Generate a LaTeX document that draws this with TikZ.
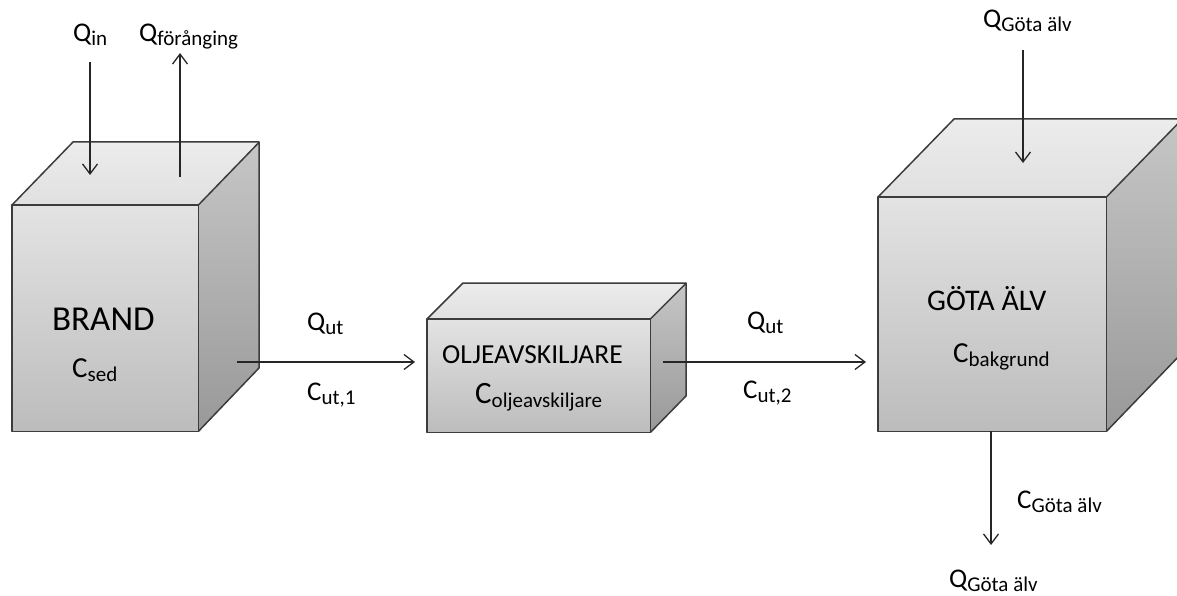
\documentclass[tikz,border=0pt]{standalone}
\usepackage{fontspec}
\setmainfont{Carlito}
\usetikzlibrary{arrows.meta}

% subscript in the style of the labels
\newcommand{\sbx}[1]{\raisebox{-4pt}{\fontsize{21}{23}\selectfont #1}}

\definecolor{edgecol}{HTML}{3C3C3C}
\definecolor{topface}{HTML}{ECECEC}
\definecolor{fronttop}{HTML}{E3E3E3}
\definecolor{frontbot}{HTML}{BCBCBC}
\definecolor{sidetop}{HTML}{C6C6C6}
\definecolor{sidebot}{HTML}{999999}

\tikzset{
  flow/.style={line width=1.3pt, draw=black!85,
    -{Straight Barb[length=10pt,width=15pt,line width=1.3pt]}},
  edge/.style={draw=edgecol, line width=1.5pt, line join=round},
  lbl/.style={anchor=base west, inner sep=0pt, font=\fontsize{27}{29}\selectfont},
  frontface/.style={draw=none, inner sep=0pt, anchor=north west}
}

% cube: name, left x, top y, width, height, depth dx, depth dy
\newcommand{\boxcube}[7]{%
  \node[frontface, minimum width=#4pt, minimum height=#5pt] (#1) at (#2,#3) {};
  \shade[top color=sidetop, bottom color=sidebot]
    (#1.north east) -- ++(#6,-#7) -- ++(0,#5) -- (#1.south east) -- cycle;
  \shade[top color=topface, bottom color=topface!95!black]
    (#1.north west) -- ++(#6,-#7) -- ++(#4,0) -- (#1.north east) -- cycle;
  \shade[top color=fronttop, bottom color=frontbot]
    (#1.north west) rectangle (#1.south east);
  \draw[edge] (#1.north west) rectangle (#1.south east);
  \draw[edge] (#1.north west) -- ++(#6,-#7) -- ++(#4,0) -- ++(0,#5) -- (#1.south east);
  \draw[edge] (#1.north east) -- ++(#6,-#7);
}

\begin{document}
\begin{tikzpicture}[x=1pt, y=-1pt]
  \useasboundingbox (0,0) rectangle (1177,596);
  \clip (0,0) rectangle (1177,596);

  % the three compartments
  \boxcube{brand}{12}{205}{186}{226}{61}{63}
  \boxcube{olje}{427}{319}{223}{113}{36}{36}
  \boxcube{gota}{878}{197}{228}{234}{76}{78}

  % texts on the front faces
  \node[lbl, font=\fontsize{35}{37}\selectfont] (tbrand) at (52,330) {BRAND};
  \node[lbl, font=\fontsize{29}{31}\selectfont] (csed) at (72,377) {C\sbx{sed}};
  \node[lbl, font=\fontsize{27.5}{29}\selectfont] (tolje) at (442,363) {OLJEAVSKILJARE};
  \node[lbl, font=\fontsize{31}{33}\selectfont] (colje) at (475,403) {C\sbx{oljeavskiljare}};
  \node[lbl, font=\fontsize{30}{32}\selectfont] (tgota) at (927,310) {GÖTA ÄLV};
  \node[lbl, font=\fontsize{29}{31}\selectfont] (cbak) at (953,362) {C\sbx{bakgrund}};

  % flows at the fire box
  \node[lbl] (qin) at (73,42) {Q\sbx{in}};
  \node[lbl] (qfor) at (139,42) {Q\sbx{förånging}};
  \coordinate (qinA) at (90,62);
  \coordinate (qinB) at (90,175);
  \coordinate (qforA) at (180,177);
  \coordinate (qforB) at (180,53);
  \draw[flow] (qinA) -- (qinB);
  \draw[flow] (qforA) -- (qforB);

  % fire box to separator
  \coordinate (o1) at (237,362);
  \coordinate (i1) at (415,362);
  \draw[flow] (o1) -- (i1);
  \node[lbl] (qut1) at (307,330) {Q\sbx{ut}};
  \node[lbl] (cut1) at (307,400) {C\sbx{ut,1}};

  % separator to river
  \coordinate (o2) at (663,362);
  \coordinate (i2) at (866,362);
  \draw[flow] (o2) -- (i2);
  \node[lbl] (qut2) at (747,329) {Q\sbx{ut}};
  \node[lbl] (cut2) at (743,398) {C\sbx{ut,2}};

  % river in- and outflow
  \node[lbl] (qgin) at (983,28) {Q\sbx{Göta älv}};
  \coordinate (gA) at (1023,50);
  \coordinate (gB) at (1023,163);
  \draw[flow] (gA) -- (gB);
  \coordinate (gC) at (991,431);
  \coordinate (gD) at (991,545);
  \draw[flow] (gC) -- (gD);
  \node[lbl] (cgout) at (1017,508) {C\sbx{Göta älv}};
  \node[lbl] (qgout) at (949,587) {Q\sbx{Göta älv}};
\end{tikzpicture}
\end{document}
